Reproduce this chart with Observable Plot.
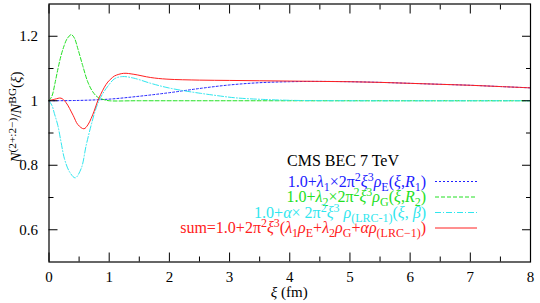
<!DOCTYPE html>
<html><head><meta charset="utf-8">
<script src="https://cdn.jsdelivr.net/npm/d3@7"></script>
<script src="https://cdn.jsdelivr.net/npm/@observablehq/plot@0.6"></script>
<style>body{margin:0;background:#fff} svg{display:block}</style>
</head><body><div id="chart"></div>
<script>
// ---- data ----
const xiBlue  = [0, 0.5, 1.0, 1.5, 2.0, 2.5, 3.0, 3.5, 4.0, 4.5, 5.0, 5.5, 6.0, 6.5, 7.0, 7.5, 8.0];
const valBlue = [1.0, 1.001, 1.005, 1.014, 1.025, 1.038, 1.049, 1.056, 1.059, 1.06, 1.059, 1.057, 1.054, 1.051, 1.048, 1.044, 1.04];

const xiGreen  = [0, 0.05, 0.1, 0.15, 0.2, 0.25, 0.3, 0.37, 0.42, 0.48, 0.56, 0.645, 0.73, 0.81, 0.92, 1.0, 1.5, 8.0];
const valGreen = [1.0, 1.015, 1.055, 1.10, 1.14, 1.17, 1.192, 1.205, 1.195, 1.161, 1.109, 1.058, 1.027, 1.011, 1.003, 1.0, 1.0, 1.0];

const xiCyan  = [0, 0.05, 0.09, 0.146, 0.2, 0.257, 0.34, 0.435, 0.535, 0.618, 0.70, 0.77, 0.83, 0.92, 0.977, 1.088, 1.22, 1.41, 1.69, 1.96, 2.24, 2.52, 2.79, 3.1, 3.57, 4.1, 5.0, 8.0];
const valCyan = [1.0, 0.985, 0.96, 0.924, 0.872, 0.82, 0.78, 0.761, 0.79, 0.862, 0.924, 0.97, 1.0, 1.03, 1.045, 1.068, 1.075, 1.07, 1.054, 1.041, 1.031, 1.023, 1.016, 1.009, 1.004, 1.001, 1.0, 1.0];

const xiRed  = [0, 0.1, 0.2, 0.28, 0.4, 0.48, 0.58, 0.645, 0.7, 0.75, 0.81, 0.86, 0.92, 0.977, 1.03, 1.09, 1.24, 1.41, 1.69, 1.96, 2.5, 3.0, 3.5, 4.0, 4.5, 5.0, 5.5, 6.0, 6.5, 7.0, 7.5, 8.0];
const valRed = [1.0, 1.005, 1.008, 0.995, 0.955, 0.926, 0.913, 0.925, 0.945, 0.968, 1.0, 1.02, 1.042, 1.058, 1.068, 1.077, 1.085, 1.082, 1.072, 1.067, 1.064, 1.063, 1.062, 1.061, 1.06, 1.059, 1.057, 1.054, 1.051, 1.048, 1.044, 1.04];

const xTicks = [0, 1, 2, 3, 4, 5, 6, 7, 8];
const xMinor = [0.5, 1.5, 2.5, 3.5, 4.5, 5.5, 6.5, 7.5];
const yTicks = [0.6, 0.8, 1, 1.2];
const yMinor = [0.7, 0.9, 1.1];

const legendTitle = "CMS BEC 7 TeV";
const seriesColors = ["#2020ff", "#22e022", "#30e6ee", "#ff2020"];
const seriesDash = ["2,2", "4,2", "6,2,1,2", null];

// ---- build ----
const toRows = (xs, vs) => xs.map((xi, i) => ({xi, v: vs[i]}));
const series = [toRows(xiBlue, valBlue), toRows(xiGreen, valGreen), toRows(xiCyan, valCyan), toRows(xiRed, valRed)];

const W = 540, H = 303;
const mL = 48.5, mR = 10, mT = 3.5, mB = 41.5;

const tickAxes = [];
for (const anchor of ["bottom", "top"]) {
  tickAxes.push(Plot.axisX(xTicks, {anchor, tickSize: -9, fill: "none", label: null, stroke: "black"}));
  tickAxes.push(Plot.axisX(xMinor, {anchor, tickSize: -5, fill: "none", label: null, stroke: "black"}));
}
for (const anchor of ["left", "right"]) {
  tickAxes.push(Plot.axisY(yTicks, {anchor, tickSize: -9, fill: "none", label: null, stroke: "black"}));
  tickAxes.push(Plot.axisY(yMinor, {anchor, tickSize: -5, fill: "none", label: null, stroke: "black"}));
}

const plot = Plot.plot({
  width: W, height: H,
  marginLeft: mL, marginRight: mR, marginTop: mT, marginBottom: mB,
  style: {fontFamily: "'Liberation Serif', 'Times New Roman', serif", fontSize: "15px", background: "white", color: "black"},
  x: {domain: [0, 8]},
  y: {domain: [0.5, 1.3]},
  marks: [
    ...series.map((d, i) => Plot.line(d, {x: "xi", y: "v", stroke: seriesColors[i], strokeWidth: 1, strokeDasharray: seriesDash[i], curve: "catmull-rom"})),
    ...tickAxes,
    Plot.axisX(xTicks, {anchor: "bottom", tickSize: 0, tickPadding: 9, label: null, tickFormat: d => `${d}`, fontSize: 15}),
    Plot.axisY(yTicks, {anchor: "left", tickSize: 0, tickPadding: 11, label: null, tickFormat: d => `${d}`, fontSize: 15}),
    Plot.frame({stroke: "black", strokeWidth: 1.2})
  ]
});
document.getElementById("chart").appendChild(plot);

// ---- rich text helper ----
function rich(textSel, segs, size) {
  let shift = 0;
  for (const [t, s = ""] of segs) {
    const target = s.includes("sub") ? 0.26 * size : s.includes("sup") ? -0.36 * size : 0;
    const ts = textSel.append("tspan").attr("dy", (target - shift).toFixed(2)).text(t);
    shift = target;
    if (s.includes("sub") || s.includes("sup")) ts.attr("font-size", (size * 0.75).toFixed(1));
    if (s.includes("i")) ts.attr("font-style", "italic");
  }
}

const svg = d3.select(plot);
const font = "'Liberation Serif', 'Times New Roman', serif";

// axis titles
const xl = svg.append("text").attr("x", mL + (W - mL - mR) / 2).attr("y", 297)
  .attr("text-anchor", "middle").attr("font-family", font).attr("font-size", 15);
rich(xl, [["ξ", "i"], [" (fm)"]], 15);

const yl = svg.append("text").attr("transform", `translate(21,117) rotate(-90)`)
  .attr("text-anchor", "middle").attr("font-family", font).attr("font-size", 15);
rich(yl, [["N", "i"], ["(2+:2−)", "sup"], ["/"], ["N", "i"], ["BG", "sup"], ["("], ["ξ", "i"], [")"]], 15);

// legend
const fs = 16;
const lg = svg.append("g").attr("font-family", font).attr("font-size", fs);
lg.append("text").attr("x", 343).attr("y", 166).attr("text-anchor", "middle").attr("fill", "black").text(legendTitle);

const legendRows = [
  [["1.0+"], ["λ", "i"], ["1", "sub"], ["×2π"], ["2", "sup"], ["ξ", "i"], ["3", "sup"], ["ρ", "i"], ["E", "sub"], ["("], ["ξ", "i"], [","], ["R", "i"], ["1", "sub"], [")"]],
  [["1.0+"], ["λ", "i"], ["2", "sub"], ["×2π"], ["2", "sup"], ["ξ", "i"], ["3", "sup"], ["ρ", "i"], ["G", "sub"], ["("], ["ξ", "i"], [","], ["R", "i"], ["2", "sub"], [")"]],
  [["1.0+"], ["α", "i"], ["× 2π"], ["2", "sup"], ["ξ", "i"], ["3", "sup"], [" "], ["ρ", "i"], ["(LRC-1)", "sub"], ["("], ["ξ", "i"], [", "], ["β", "i"], [")"]],
  [["sum=1.0+2π"], ["2", "sup"], ["ξ", "i"], ["3", "sup"], ["("], ["λ", "i"], ["1", "sub"], ["ρ", "i"], ["E", "sub"], ["+"], ["λ", "i"], ["2", "sub"], ["ρ", "i"], ["G", "sub"], ["+"], ["α", "i"], ["ρ", "i"], ["(LRC−1)", "sub"], [")"]]
];
const rowBase = [186.5, 202, 217.5, 233];
legendRows.forEach((segs, i) => {
  const t = lg.append("text").attr("x", 426).attr("y", rowBase[i]).attr("text-anchor", "end").attr("fill", seriesColors[i]);
  rich(t, segs, fs);
  lg.append("line").attr("x1", 435).attr("x2", 477).attr("y1", rowBase[i] - 5).attr("y2", rowBase[i] - 5)
    .attr("stroke", seriesColors[i]).attr("stroke-width", 1).attr("stroke-dasharray", seriesDash[i]);
});
</script>
</body></html>
